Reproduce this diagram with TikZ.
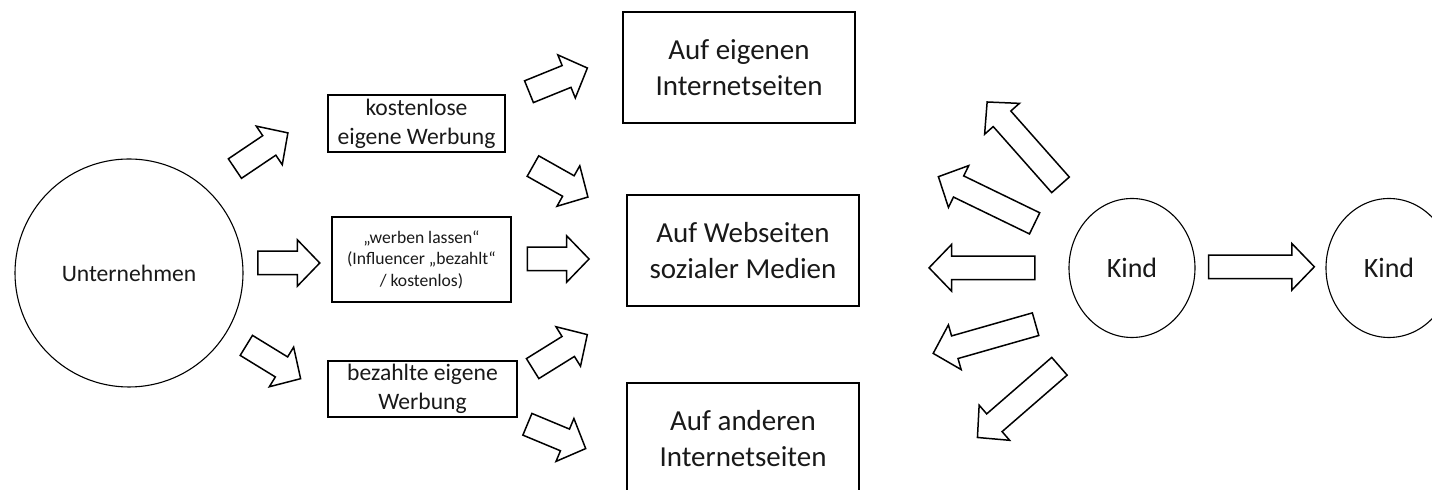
\documentclass[tikz,border=0pt]{standalone}
\usepackage{fontspec}
\setmainfont{Carlito}
\usetikzlibrary{shapes.arrows,shapes.geometric,calc}

\tikzset{
  box/.style={draw, line width=.8pt, inner sep=0pt, align=center, text=black!90},
  rund/.style={draw, line width=.55pt, inner sep=0pt, align=center, text=black!90},
  fatarrow/.style={single arrow, draw, line width=.75pt, inner xsep=0pt, inner ysep=5.5pt,
    single arrow head extend=5.75pt, single arrow tip angle=92},
}

% Blockpfeil von #1 (Ende) nach #2 (Spitze)
\newcommand\blockarrow[2]{%
  \path let \p1=($(#2)-(#1)$), \n1={veclen(\x1,\y1)} in
    (#1) -- (#2) node[pos=0, sloped, allow upside down, anchor=tail, fatarrow, minimum height=\n1] {};}

\begin{document}
\begin{tikzpicture}[x=.5pt, y=-.5pt, line join=miter]
\useasboundingbox (0,0) rectangle (1432,490);
\clip (0,0) rectangle (1432,490);

% Knoten
\node[rund, circle, minimum size=114pt, font=\fontsize{11.8}{14.5}\selectfont] (U) at (129,273) {Unternehmen};

\node[box, minimum width=88.5pt, minimum height=28.5pt, font=\fontsize{11.8}{14.5}\selectfont] (kost) at (416.5,123.5) {kostenlose\\eigene Werbung};
\node[box, minimum width=89.5pt, minimum height=42.5pt, font=\fontsize{8.8}{10.8}\selectfont] (werb) at (421.5,259.5) {„werben lassen“\\(Influencer „bezahlt“\\/ kostenlos)};
\node[box, minimum width=94.5pt, minimum height=28pt, font=\fontsize{11.8}{14.5}\selectfont] (bez) at (422.5,389) {bezahlte eigene\\Werbung};

\node[box, minimum width=116pt, minimum height=55.5pt, font=\fontsize{14.5}{18}\selectfont] (eig) at (739,67.5) {Auf eigenen\\Internetseiten};
\node[box, minimum width=116pt, minimum height=55.5pt, font=\fontsize{14.5}{18}\selectfont] (web) at (743,250.5) {Auf Webseiten\\sozialer Medien};
\node[box, minimum width=116pt, minimum height=55.5pt, font=\fontsize{14.5}{18}\selectfont] (and) at (743,438.5) {Auf anderen\\Internetseiten};

\node[rund, ellipse, minimum width=63pt, minimum height=69.5pt, font=\fontsize{14}{17}\selectfont] (kind) at (1132,268) {Kind};
\node[rund, ellipse, minimum width=63pt, minimum height=69.5pt, font=\fontsize{14}{17}\selectfont] (kindB) at (1389,268) {Kind};

% Pfeilenden (0) und Spitzen (1)
\coordinate (uk0) at (234.3,169);   \coordinate (uk1) at (287.3,133.3);
\coordinate (uw0) at (257,263);     \coordinate (uw1) at (319,263);
\coordinate (ub0) at (245.7,345);   \coordinate (ub1) at (300,378.3);
\coordinate (ke0) at (528.3,92);    \coordinate (ke1) at (586.7,68.3);
\coordinate (kw0) at (532.3,165.7); \coordinate (kw1) at (587.3,196.7);
\coordinate (ww0) at (526.7,259);   \coordinate (ww1) at (588.3,259);
\coordinate (bw0) at (532,369);     \coordinate (bw1) at (586.7,335);
\coordinate (ba0) at (526.7,424);   \coordinate (ba1) at (585,448.3);
\coordinate (f10) at (1061,185.4);  \coordinate (f11) at (987.5,102.4);
\coordinate (f20) at (1035.3,223.7);\coordinate (f21) at (939,177);
\coordinate (f30) at (1035.6,267.8);\coordinate (f31) at (929.8,267.8);
\coordinate (f40) at (1036.3,324);  \coordinate (f41) at (933.9,353.2);
\coordinate (f50) at (1060,365.8);  \coordinate (f51) at (978,437);
\coordinate (kk0) at (1207.8,266.8);\coordinate (kk1) at (1313.6,266.8);

% Pfeile
\foreach \pf in {uk,uw,ub,ke,kw,ww,bw,ba,f1,f2,f3,f4,f5,kk}
  \blockarrow{\pf0}{\pf1};

\end{tikzpicture}
\end{document}
